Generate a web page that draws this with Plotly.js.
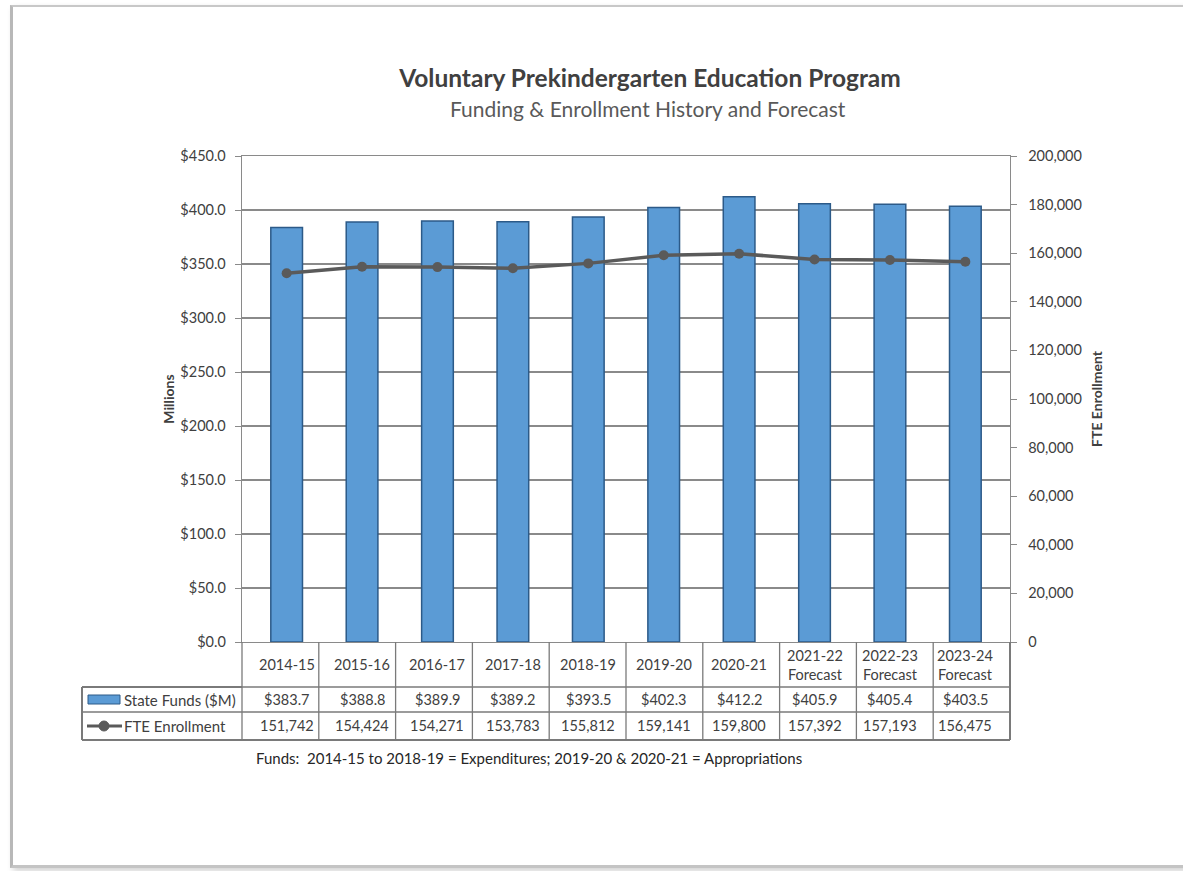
<!DOCTYPE html>
<html>
<head>
<meta charset="utf-8">
<script src="https://cdn.plot.ly/plotly-3.0.1.min.js"></script>
<style>
  html, body { margin: 0; padding: 0; background: #ffffff; }
  #frame { position: absolute; left: 10px; top: 5px; width: 1190px; height: 858px;
           border-left: 3px solid #b8b8b8; border-top: 2px solid #c8c8c8; border-bottom: 3px solid #c4c4c4;
           box-shadow: 3px 3px 6px rgba(0,0,0,0.18); background: #ffffff; }
  #chart { position: absolute; left: 0; top: 0; width: 1183px; height: 871px; }
</style>
</head>
<body>
<div id="frame"></div>
<div id="chart"></div>
<script>
// ---- data ----
const categories = ["2014-15","2015-16","2016-17","2017-18","2018-19","2019-20","2020-21","2021-22","2022-23","2023-24"];
const categoryLabels = ["2014-15","2015-16","2016-17","2017-18","2018-19","2019-20","2020-21","2021-22<br>Forecast","2022-23<br>Forecast","2023-24<br>Forecast"];
const stateFunds = [383.7, 388.8, 389.9, 389.2, 393.5, 402.3, 412.2, 405.9, 405.4, 403.5];
const fteEnrollment = [151742, 154424, 154271, 153783, 155812, 159141, 159800, 157392, 157193, 156475];
const leftTicks = [0, 50, 100, 150, 200, 250, 300, 350, 400, 450];
const rightTicks = [0, 20000, 40000, 60000, 80000, 100000, 120000, 140000, 160000, 180000, 200000];

const FONT = "Lato, 'Open Sans', sans-serif";
const TXT = "#404040";
const GRID = "#8a8a8a";

// geometry helpers (paper coordinates)
const W = 768, H = 486;          // plot area size in px
const px = v => v / W;           // px -> paper x
const py = v => v / H;           // px -> paper y

const rowTop = 0, rowHdr = -py(45), row1 = -py(70), row2 = -py(98);
const legLeft = -px(160);

const fmtMoney = v => "$" + v.toFixed(1);
const fmtInt = v => v.toLocaleString("en-US");

const traces = [
  {
    type: "bar", name: "State Funds ($M)", x: categories, y: stateFunds,
    marker: { color: "#5b9bd5", line: { color: "#2c5a88", width: 1.5 } },
    width: 0.42, yaxis: "y", hoverinfo: "x+y"
  },
  {
    type: "scatter", mode: "lines+markers", name: "FTE Enrollment", x: categories, y: fteEnrollment,
    line: { color: "#5a5a5a", width: 3.5 }, marker: { color: "#5a5a5a", size: 10 },
    yaxis: "y2"
  }
];

const shapes = [];
const annotations = [];
const lineStyle = { color: "#7a7a7a", width: 1.3 };
const TS = 14.5;

// table horizontal lines
shapes.push({ type: "line", xref: "paper", yref: "paper", x0: 0, x1: 1, y0: rowHdr, y1: rowHdr, line: lineStyle });
shapes.push({ type: "line", xref: "paper", yref: "paper", x0: legLeft, x1: 1, y0: row1, y1: row1, line: lineStyle });
shapes.push({ type: "line", xref: "paper", yref: "paper", x0: legLeft, x1: 1, y0: row2, y1: row2, line: { color: "#7a7a7a", width: 2 } });
shapes.push({ type: "line", xref: "paper", yref: "paper", x0: legLeft, x1: 0, y0: rowHdr, y1: rowHdr, line: { color: "#7a7a7a", width: 2 } });
// vertical lines
shapes.push({ type: "line", xref: "paper", yref: "paper", x0: legLeft, x1: legLeft, y0: rowHdr, y1: row2, line: { color: "#7a7a7a", width: 2 } });
for (let i = 0; i <= categories.length; i++) {
  const xv = i / categories.length;
  shapes.push({ type: "line", xref: "paper", yref: "paper", x0: xv, x1: xv, y0: rowTop, y1: row2,
    line: i === categories.length ? { color: "#7a7a7a", width: 2 } : lineStyle });
}
// legend key: bar
shapes.push({ type: "rect", xref: "paper", yref: "paper", x0: -px(154), x1: -px(122), y0: rowHdr - py(8), y1: rowHdr - py(17),
  fillcolor: "#5b9bd5", line: { color: "#2c5a88", width: 1 } });
// legend key: line + marker
shapes.push({ type: "line", xref: "paper", yref: "paper", x0: -px(155), x1: -px(120), y0: (row1 + row2) / 2, y1: (row1 + row2) / 2,
  line: { color: "#5a5a5a", width: 3 } });
shapes.push({ type: "circle", xref: "paper", yref: "paper", x0: -px(143), x1: -px(133), y0: (row1 + row2) / 2 - py(5), y1: (row1 + row2) / 2 + py(5),
  fillcolor: "#5a5a5a", line: { color: "#5a5a5a", width: 1 } });

annotations.push({ xref: "paper", yref: "paper", x: -px(120), y: (rowHdr + row1) / 2, xanchor: "left", yanchor: "middle",
  text: "State Funds ($M)", showarrow: false, font: { family: FONT, size: 15, color: TXT } });
annotations.push({ xref: "paper", yref: "paper", x: -px(120), y: (row1 + row2) / 2, xanchor: "left", yanchor: "middle",
  text: "FTE Enrollment", showarrow: false, font: { family: FONT, size: 15, color: TXT } });

// table cells
categories.forEach((c, i) => {
  annotations.push({ xref: "x", yref: "paper", x: c, y: (rowTop + rowHdr) / 2, xanchor: "center", yanchor: "middle",
    text: categoryLabels[i], showarrow: false, font: { family: FONT, size: TS, color: TXT } });
  annotations.push({ xref: "x", yref: "paper", x: c, y: (rowHdr + row1) / 2, xanchor: "center", yanchor: "middle",
    text: fmtMoney(stateFunds[i]), showarrow: false, font: { family: FONT, size: TS, color: TXT } });
  annotations.push({ xref: "x", yref: "paper", x: c, y: (row1 + row2) / 2, xanchor: "center", yanchor: "middle",
    text: fmtInt(fteEnrollment[i]), showarrow: false, font: { family: FONT, size: TS, color: TXT } });
});

// subtitle & footnote
annotations.push({ xref: "paper", yref: "paper", x: px(406), y: 1 + py(48), xanchor: "center", yanchor: "middle",
  text: "Funding & Enrollment History and Forecast", showarrow: false, font: { family: FONT, size: 21, color: "#595959" } });
annotations.push({ xref: "paper", yref: "paper", x: px(287), y: -py(116), xanchor: "center", yanchor: "middle",
  text: "Funds:  2014-15 to 2018-19 = Expenditures; 2019-20 & 2020-21 = Appropriations", showarrow: false,
  font: { family: FONT, size: 15, color: "#262626" } });

const layout = {
  width: 1183, height: 871,
  paper_bgcolor: "rgba(0,0,0,0)", plot_bgcolor: "#ffffff",
  margin: { l: 242, r: 173, t: 156, b: 229, pad: 0 },
  showlegend: false,
  font: { family: FONT, color: TXT },
  title: { text: "<b>Voluntary Prekindergarten Education Program</b>", x: 650 / 1183, xref: "container",
    y: 1 - 78 / 871, yref: "container", xanchor: "center", yanchor: "middle",
    font: { family: FONT, size: 24.5, color: TXT } },
  bargap: 0.58,
  xaxis: {
    type: "category", showticklabels: false, ticks: "", showgrid: false, zeroline: false,
    showline: true, linecolor: GRID, linewidth: 1.3, mirror: true, fixedrange: true
  },
  yaxis: {
    range: [0, 450], tickvals: leftTicks, ticktext: leftTicks.map(v => "$" + v.toFixed(1)),
    showgrid: true, gridcolor: GRID, gridwidth: 1.2, ticks: "outside", ticklen: 6, tickcolor: GRID,
    ticklabelstandoff: 6,
    showline: true, linecolor: GRID, linewidth: 1.3, zeroline: false,
    tickfont: { family: FONT, size: 14.5, color: TXT },
    title: { text: "<b>Millions</b>", font: { family: FONT, size: 14, color: TXT }, standoff: 2 }
  },
  yaxis2: {
    range: [0, 200000], tickvals: rightTicks, ticktext: rightTicks.map(fmtInt),
    overlaying: "y", side: "right", showgrid: false, ticks: "outside", ticklen: 6, tickcolor: GRID,
    ticklabelstandoff: 8,
    showline: true, linecolor: GRID, linewidth: 1.3, zeroline: false,
    tickfont: { family: FONT, size: 14.5, color: TXT },
    title: { text: "<b>FTE Enrollment</b>", font: { family: FONT, size: 14, color: TXT }, standoff: 11 }
  },
  shapes: shapes,
  annotations: annotations
};

Plotly.newPlot("chart", traces, layout, { displayModeBar: false, staticPlot: true });
</script>
</body>
</html>
